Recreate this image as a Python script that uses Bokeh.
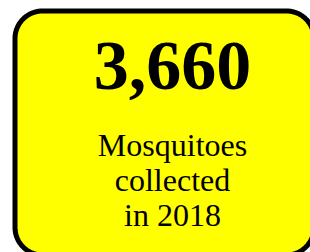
import numpy as np
from bokeh.plotting import figure
from bokeh.models import Range1d
from bokeh.core.properties import value
from bokeh.embed import file_html
from bokeh.resources import INLINE

# data
mosquito_count = [3660]
count_labels = [f"{v:,}" for v in mosquito_count]
caption_lines = ["Mosquitoes", "collected", "in 2018"]

W, H = 310, 252
p = figure(width=W, height=H, output_backend="svg", toolbar_location=None,
           x_axis_type=None, y_axis_type=None, min_border=0,
           x_range=Range1d(0, W), y_range=Range1d(0, H))
p.outline_line_color = None
p.grid.visible = False
p.background_fill_color = "white"
p.border_fill_color = "white"

# rounded box outline (decoration)
def rounded_rect(l, r, b, t, rad, n=24):
    xs, ys = [], []
    corners = [(r - rad, t - rad, 0, 90), (l + rad, t - rad, 90, 180),
               (l + rad, b + rad, 180, 270), (r - rad, b + rad, 270, 360)]
    for cx0, cy0, a0, a1 in corners:
        a = np.radians(np.linspace(a0, a1, n))
        xs.extend(cx0 + rad * np.cos(a))
        ys.extend(cy0 + rad * np.sin(a))
    return xs, ys

bx, by = rounded_rect(14.5, 313.5, H - 254.5, H - 10.5, 27.5)
p.patch(bx, by, fill_color="#ffff00", line_color="black", line_width=5,
        line_join="round")

cx = 172
p.text(x=[cx], y=[H - 65], text=count_labels,
       text_font=value("Liberation Serif"), text_font_style="bold",
       text_font_size="70px", text_align="center", text_baseline="alphabetic",
       text_color="black")

cap_y = [H - 144, H - 179, H - 214]
p.text(x=[cx] * len(caption_lines), y=cap_y, text=caption_lines,
       text_font=value("Liberation Serif"), text_font_size="32px",
       text_align="center", text_baseline="alphabetic", text_color="black")

open("out.html", "w").write(file_html(p, INLINE))
